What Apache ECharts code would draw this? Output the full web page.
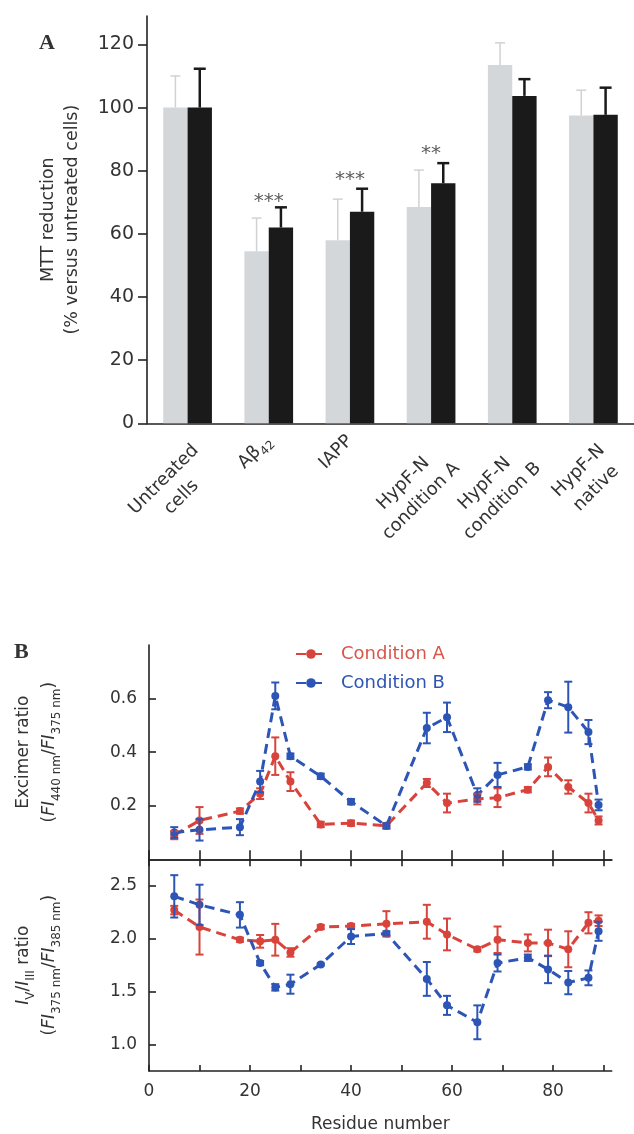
<!DOCTYPE html>
<html>
<head>
<meta charset="utf-8">
<script src="https://cdn.jsdelivr.net/npm/echarts@6/dist/echarts.min.js"></script>
<style>
html,body{margin:0;padding:0;background:#fff;}
#c{width:634px;height:1134px;}
</style>
</head>
<body>
<div id="c"></div>
<script>
// ---------- Panel A data ----------
const categoriesA = ['Untreated\ncells', 'Aβ42', 'IAPP', 'HypF-N\ncondition A', 'HypF-N\ncondition B', 'HypF-N\nnative'];
const greyValues = [100, 54.5, 58, 68.5, 113.5, 97.5];
const greyErrors = [10, 10.5, 13, 11.7, 7, 8];
const blackValues = [100, 62, 67, 76, 103.7, 97.7];
const blackErrors = [12.3, 6.4, 7.3, 6.4, 5.3, 8.6];
const starValues = [null, 71.8, 78.7, 86.9, null, null];
const starLabels = ['', '***', '***', '**', '', ''];
const yTicksA = [0, 20, 40, 60, 80, 100, 120];

// ---------- Panel B data ----------
const residues = [5, 10, 18, 22, 25, 28, 34, 40, 47, 55, 59, 65, 69, 75, 79, 83, 87, 89];
const excimerA = [0.09, 0.145, 0.18, 0.245, 0.385, 0.29, 0.13, 0.135, 0.125, 0.285, 0.21, 0.225, 0.23, 0.26, 0.345, 0.27, 0.21, 0.145];
const excimerAErr = [0.015, 0.05, 0.01, 0.02, 0.07, 0.035, 0.01, 0.01, 0.01, 0.015, 0.035, 0.02, 0.035, 0.01, 0.035, 0.025, 0.035, 0.015];
const excimerB = [0.10, 0.11, 0.12, 0.29, 0.61, 0.385, 0.31, 0.215, 0.125, 0.49, 0.53, 0.24, 0.315, 0.345, 0.594, 0.568, 0.475, 0.203];
const excimerBErr = [0.02, 0.04, 0.03, 0.04, 0.05, 0.01, 0.01, 0.01, 0.01, 0.057, 0.055, 0.025, 0.045, 0.01, 0.03, 0.095, 0.045, 0.02];
const ratioA = [2.27, 2.11, 1.99, 1.975, 1.99, 1.87, 2.11, 2.12, 2.14, 2.16, 2.04, 1.90, 1.99, 1.96, 1.96, 1.90, 2.15, 2.17];
const ratioAErr = [0.04, 0.26, 0.02, 0.06, 0.15, 0.04, 0.02, 0.02, 0.12, 0.16, 0.15, 0.02, 0.125, 0.08, 0.125, 0.17, 0.1, 0.05];
const ratioB = [2.40, 2.32, 2.225, 1.77, 1.54, 1.57, 1.757, 2.02, 2.05, 1.62, 1.37, 1.21, 1.77, 1.82, 1.71, 1.585, 1.63, 2.07];
const ratioBErr = [0.2, 0.19, 0.12, 0.02, 0.03, 0.09, 0.01, 0.07, 0.02, 0.16, 0.09, 0.16, 0.08, 0.03, 0.13, 0.11, 0.07, 0.09];
const xLabelsB = [0, 20, 40, 60, 80];
const xTicksB = [0, 10, 20, 30, 40, 50, 60, 70, 80, 90];
const yTicksExcimer = [0.2, 0.4, 0.6];
const yTicksRatio = [1.0, 1.5, 2.0, 2.5];
const seriesNames = ['Condition A', 'Condition B'];

const RED = '#d8433b';
const BLUE = '#2d55b6';
const AXIS = '#222';
const FONT = 'DejaVu Sans';
const XLAB_SIZE = 18;

const chart = echarts.init(document.getElementById('c'), null, {renderer: 'canvas'});

function pairs(xs, ys, es) { return xs.map((x, i) => [x, ys[i], es[i]]); }

function errRenderB(color) {
  return function (params, api) {
    const x = api.value(0), y = api.value(1), e = api.value(2);
    const hi = api.coord([x, y + e]);
    const lo = api.coord([x, y - e]);
    const w = 4;
    const st = {stroke: color, lineWidth: 2};
    return {type: 'group', children: [
      {type: 'line', shape: {x1: hi[0], y1: hi[1], x2: lo[0], y2: lo[1]}, style: st},
      {type: 'line', shape: {x1: hi[0] - w, y1: hi[1], x2: hi[0] + w, y2: hi[1]}, style: st},
      {type: 'line', shape: {x1: lo[0] - w, y1: lo[1], x2: lo[0] + w, y2: lo[1]}, style: st}
    ]};
  };
}

function errRenderA(side, color, lw, capW) {
  return function (params, api) {
    const c = api.value(0), v = api.value(1), e = api.value(2);
    const band = api.size([1, 0])[0];
    const off = side * band * 0.15;
    const top = api.coord([c, v + e]);
    const base = api.coord([c, v]);
    const x = base[0] + off;
    const st = {stroke: color, lineWidth: lw};
    return {type: 'group', children: [
      {type: 'line', shape: {x1: x, y1: base[1], x2: x, y2: top[1]}, style: st},
      {type: 'line', shape: {x1: x - capW, y1: top[1], x2: x + capW, y2: top[1]}, style: st}
    ]};
  };
}

const lineSeries = (name, xi, yi, xs, ys, color) => ({
  name: name, type: 'line', xAxisIndex: xi, yAxisIndex: yi,
  data: xs.map((x, i) => [x, ys[i]]),
  symbol: 'circle', symbolSize: 8,
  itemStyle: {color: color},
  lineStyle: {color: color, width: 3, type: [10, 6]},
  z: 3
});

// x-label rich styles: lines of two-line labels centred on each other
const measureCtx = document.createElement('canvas').getContext('2d');
measureCtx.font = XLAB_SIZE + 'px "' + FONT + '"';
const xRich = {
  n: {fontFamily: FONT, fontSize: XLAB_SIZE, color: '#333'},
  s: {fontFamily: FONT, fontSize: 12, color: '#333', verticalAlign: 'bottom', padding: [8, 0, 0, 0]}
};
const xFormat = {};
categoriesA.forEach((c, i) => {
  if (c.indexOf('\n') < 0) return;
  const lines = c.split('\n');
  const w = Math.ceil(Math.max(...lines.map(l => measureCtx.measureText(l).width))) + 1;
  xRich['w' + i] = {fontFamily: FONT, fontSize: XLAB_SIZE, color: '#333', width: w, align: 'center', lineHeight: 25};
  xFormat[c] = lines.map(l => '{w' + i + '|' + l + '}').join('\n');
});
xFormat['Aβ42'] = '{n|Aβ}{s|42}';

const catItemsA = categoriesA.map(c => c.indexOf('\n') >= 0
  ? {value: c, textStyle: {verticalAlign: 'top'}}
  : {value: c, textStyle: {verticalAlign: 'middle'}});

const option = {
  backgroundColor: '#fff',
  animation: false,
  title: [
    {text: 'A', left: 34, top: 27, textStyle: {fontFamily: 'Liberation Serif', fontWeight: 'bold', fontSize: 22, color: '#333'}},
    {text: 'B', left: 9, top: 636, textStyle: {fontFamily: 'Liberation Serif', fontWeight: 'bold', fontSize: 22, color: '#333'}}
  ],
  legend: {
    left: 290, top: 640, orient: 'vertical', itemGap: 11, itemWidth: 30, itemHeight: 12,
    data: [
      {name: seriesNames[0], textStyle: {color: '#d9554a'}},
      {name: seriesNames[1], textStyle: {color: BLUE}}
    ],
    textStyle: {fontFamily: FONT, fontSize: 18, padding: [0, 0, 0, 10]}
  },
  grid: [
    {left: 147, right: -6, top: 16, height: 407.3},
    {left: 149, right: 22.3, top: 645, height: 214.3},
    {left: 149, right: 22.3, top: 859.3, height: 214}
  ],
  xAxis: [
    {
      type: 'category', gridIndex: 0, data: catItemsA,
      axisLine: {lineStyle: {color: AXIS, width: 1.6}},
      axisTick: {length: 9, lineStyle: {color: AXIS, width: 1.6}},
      axisLabel: {
        rotate: 45, margin: 15, color: '#333', fontFamily: FONT, fontSize: XLAB_SIZE, lineHeight: 25,
        interval: 0,
        formatter: v => xFormat[v] || v,
        rich: xRich
      }
    },
    {
      type: 'value', gridIndex: 1, min: 0, max: 91.6, position: 'bottom',
      axisLine: {onZero: false, lineStyle: {color: AXIS, width: 1.6}},
      axisTick: {inside: true, length: 9, lineStyle: {color: AXIS, width: 1.6}, customValues: xTicksB},
      axisLabel: {show: false},
      splitLine: {show: false}
    },
    {
      type: 'value', gridIndex: 2, min: 0, max: 91.6, position: 'bottom',
      name: 'Residue number', nameLocation: 'middle', nameGap: 45,
      nameTextStyle: {fontFamily: FONT, fontSize: 17, color: '#333'},
      axisLine: {onZero: false, lineStyle: {color: AXIS, width: 1.6}},
      axisTick: {inside: true, length: 6, lineStyle: {color: AXIS, width: 1.6}, customValues: xTicksB},
      axisLabel: {margin: 12, fontFamily: FONT, fontSize: 17, color: '#333', customValues: xLabelsB},
      splitLine: {show: false}
    },
    {
      type: 'value', gridIndex: 2, min: 0, max: 91.6, position: 'top',
      axisLine: {onZero: false, lineStyle: {color: AXIS, width: 1.6}},
      axisTick: {inside: true, length: 7, lineStyle: {color: AXIS, width: 1.6}, customValues: xTicksB},
      axisLabel: {show: false},
      splitLine: {show: false}
    }
  ],
  yAxis: [
    {
      type: 'value', gridIndex: 0, min: 0, max: 129,
      name: '{a|MTT reduction}\n{a|(% versus untreated cells)}', nameLocation: 'middle', nameGap: 63, nameRotate: 90,
      nameTextStyle: {rich: {a: {fontFamily: FONT, fontSize: 17.5, color: '#333', lineHeight: 24}}},
      axisLine: {show: true, lineStyle: {color: AXIS, width: 1.6}},
      axisTick: {show: true, length: 9, lineStyle: {color: AXIS, width: 1.6}, customValues: yTicksA},
      axisLabel: {margin: 13, fontFamily: FONT, fontSize: 19, color: '#333', customValues: yTicksA},
      splitLine: {show: false}
    },
    {
      type: 'value', gridIndex: 1, min: 0, max: 0.8,
      name: '{a|Excimer ratio}\n{a|(}{i|FI}{s|440 nm}{a|/}{i|FI}{s|375 nm}{a|)}', nameLocation: 'middle', nameGap: 86, nameRotate: 90,
      nameTextStyle: {rich: {
        a: {fontFamily: FONT, fontSize: 17, color: '#333', lineHeight: 26},
        i: {fontFamily: FONT, fontStyle: 'italic', fontSize: 17, color: '#333', lineHeight: 26},
        s: {fontFamily: FONT, fontSize: 12, color: '#333', verticalAlign: 'bottom', lineHeight: 26, padding: [10, 0, 0, 0]}
      }},
      axisLine: {show: true, onZero: false, lineStyle: {color: AXIS, width: 1.6}},
      axisTick: {show: true, inside: true, length: 7, lineStyle: {color: AXIS, width: 1.6}, customValues: yTicksExcimer},
      axisLabel: {margin: 12, fontFamily: FONT, fontSize: 17, color: '#333', customValues: yTicksExcimer, formatter: v => v.toFixed(1)},
      splitLine: {show: false}
    },
    {
      type: 'value', gridIndex: 2, min: 0.75, max: 2.75,
      name: '{i|I}{s|V}{a|/}{i|I}{s|III}{a| ratio}\n{a|(}{i|FI}{s|375 nm}{a|/}{i|FI}{s|385 nm}{a|)}', nameLocation: 'middle', nameGap: 86, nameRotate: 90,
      nameTextStyle: {rich: {
        a: {fontFamily: FONT, fontSize: 17, color: '#333', lineHeight: 26},
        i: {fontFamily: FONT, fontStyle: 'italic', fontSize: 17, color: '#333', lineHeight: 26},
        s: {fontFamily: FONT, fontSize: 12, color: '#333', verticalAlign: 'bottom', lineHeight: 26, padding: [10, 0, 0, 0]}
      }},
      axisLine: {show: true, onZero: false, lineStyle: {color: AXIS, width: 1.6}},
      axisTick: {show: true, inside: true, length: 7, lineStyle: {color: AXIS, width: 1.6}, customValues: yTicksRatio},
      axisLabel: {margin: 12, fontFamily: FONT, fontSize: 17, color: '#333', customValues: yTicksRatio, formatter: v => v.toFixed(1)},
      splitLine: {show: false}
    }
  ],
  series: [
    {type: 'bar', name: 'grey', xAxisIndex: 0, yAxisIndex: 0, data: greyValues, barWidth: '30%', barGap: '0%',
     itemStyle: {color: '#d4d7da'}, z: 2},
    {type: 'bar', name: 'black', xAxisIndex: 0, yAxisIndex: 0, data: blackValues, barWidth: '30%', barGap: '0%',
     itemStyle: {color: '#1a1a1a'}, z: 2},
    {type: 'custom', xAxisIndex: 0, yAxisIndex: 0, renderItem: errRenderA(-1, '#cfd2d5', 1.5, 5),
     data: greyValues.map((v, i) => [i, v, greyErrors[i]]), z: 1},
    {type: 'custom', xAxisIndex: 0, yAxisIndex: 0, renderItem: errRenderA(1, '#1a1a1a', 2.5, 6),
     data: blackValues.map((v, i) => [i, v, blackErrors[i]]), z: 1},
    {type: 'scatter', xAxisIndex: 0, yAxisIndex: 0, symbolSize: 0,
     data: starValues.map((v, i) => v === null ? null : {value: [i, v], label: {formatter: starLabels[i]}}),
     label: {show: true, position: 'inside', color: '#333', fontFamily: FONT, fontSize: 20, offset: [0, 5]}, z: 4},

    lineSeries(seriesNames[0], 1, 1, residues, excimerA, RED),
    lineSeries(seriesNames[1], 1, 1, residues, excimerB, BLUE),
    {type: 'custom', xAxisIndex: 1, yAxisIndex: 1, renderItem: errRenderB(RED), data: pairs(residues, excimerA, excimerAErr), z: 4},
    {type: 'custom', xAxisIndex: 1, yAxisIndex: 1, renderItem: errRenderB(BLUE), data: pairs(residues, excimerB, excimerBErr), z: 5},

    lineSeries(seriesNames[0], 2, 2, residues, ratioA, RED),
    lineSeries(seriesNames[1], 2, 2, residues, ratioB, BLUE),
    {type: 'custom', xAxisIndex: 2, yAxisIndex: 2, renderItem: errRenderB(RED), data: pairs(residues, ratioA, ratioAErr), z: 4},
    {type: 'custom', xAxisIndex: 2, yAxisIndex: 2, renderItem: errRenderB(BLUE), data: pairs(residues, ratioB, ratioBErr), z: 5}
  ]
};
chart.setOption(option);
</script>
</body>
</html>
